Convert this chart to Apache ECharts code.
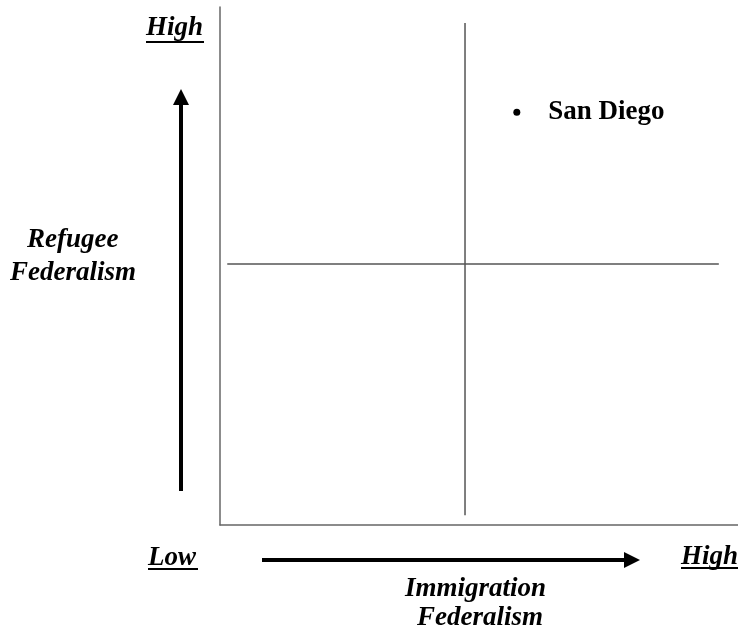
<!DOCTYPE html>
<html>
<head>
<meta charset="utf-8">
<script src="https://cdn.jsdelivr.net/npm/echarts@6/dist/echarts.min.js"></script>
<style>
  html, body { margin: 0; padding: 0; background: #fff; }
  #chart { width: 738px; height: 635px; }
</style>
</head>
<body>
<div id="chart"></div>
<script>
// quadrant divider lines (axis units 0..100)
var dividerX = [[47.3, 1.9], [47.3, 96.9]]
var dividerY = [[1.4, 50.4], [96.3, 50.4]]
// cities placed in the grid
var cityNames = ['San Diego']
var cityX = [57.3]
var cityY = [79.7]

var serif = '"Liberation Serif", "Times New Roman", serif'
var labelFont = 'italic bold 27px ' + serif

var chart = echarts.init(document.getElementById('chart'))

var cityData = []
for (var i = 0; i < cityNames.length; i++) {
  cityData.push({ name: cityNames[i], value: [cityX[i], cityY[i]] })
}

// small helper for the underlined low/high labels
function underlined (txt, x, y, w, uy) {
  return [
    { type: 'text', left: x, top: y, style: { text: txt, font: labelFont, fill: '#000' } },
    { type: 'line', shape: { x1: x, y1: y + uy, x2: x + w, y2: y + uy }, style: { stroke: '#000', lineWidth: 2 } }
  ]
}

var option = {
  animation: false,
  grid: { left: 220, right: 0, top: 7, bottom: 110 },
  xAxis: {
    type: 'value', min: 0, max: 100,
    axisLine: { show: true, onZero: false, lineStyle: { color: '#666', width: 1.5 } },
    axisTick: { show: false }, axisLabel: { show: false }, splitLine: { show: false }
  },
  yAxis: {
    type: 'value', min: 0, max: 100,
    axisLine: { show: true, onZero: false, lineStyle: { color: '#666', width: 1.5 } },
    axisTick: { show: false }, axisLabel: { show: false }, splitLine: { show: false }
  },
  series: [
    {
      type: 'line', data: dividerX, symbol: 'none',
      lineStyle: { color: '#555', width: 1.5 }
    },
    {
      type: 'line', data: dividerY, symbol: 'none',
      lineStyle: { color: '#555', width: 1.5 }
    },
    {
      type: 'scatter', data: cityData, symbol: 'circle', symbolSize: 7,
      itemStyle: { color: '#000', opacity: 1 },
      label: {
        show: true, position: 'right', distance: 28,
        formatter: '{b}', color: '#000',
        fontFamily: serif, fontWeight: 'bold', fontSize: 27
      }
    }
  ],
  graphic: [
    // vertical arrow
    { type: 'line', shape: { x1: 181, y1: 491, x2: 181, y2: 102 }, style: { stroke: '#000', lineWidth: 4 } },
    { type: 'polygon', shape: { points: [[173, 105], [189, 105], [181, 89]] }, style: { fill: '#000' } },
    // horizontal arrow
    { type: 'line', shape: { x1: 262, y1: 560, x2: 627, y2: 560 }, style: { stroke: '#000', lineWidth: 4 } },
    { type: 'polygon', shape: { points: [[624, 552], [624, 568], [640, 560]] }, style: { fill: '#000' } },
    // axis titles
    { type: 'text', left: 27, top: 227, style: { text: 'Refugee', font: labelFont, fill: '#000' } },
    { type: 'text', left: 10, top: 260, style: { text: 'Federalism', font: labelFont, fill: '#000' } },
    { type: 'text', left: 405, top: 576, style: { text: 'Immigration', font: labelFont, fill: '#000' } },
    { type: 'text', left: 417, top: 605, style: { text: 'Federalism', font: labelFont, fill: '#000' } }
  ].concat(underlined('High', 146, 15, 58, 27))
   .concat(underlined('Low', 148, 545, 50, 24))
   .concat(underlined('High', 681, 544, 57, 24))
}

chart.setOption(option)
</script>
</body>
</html>
